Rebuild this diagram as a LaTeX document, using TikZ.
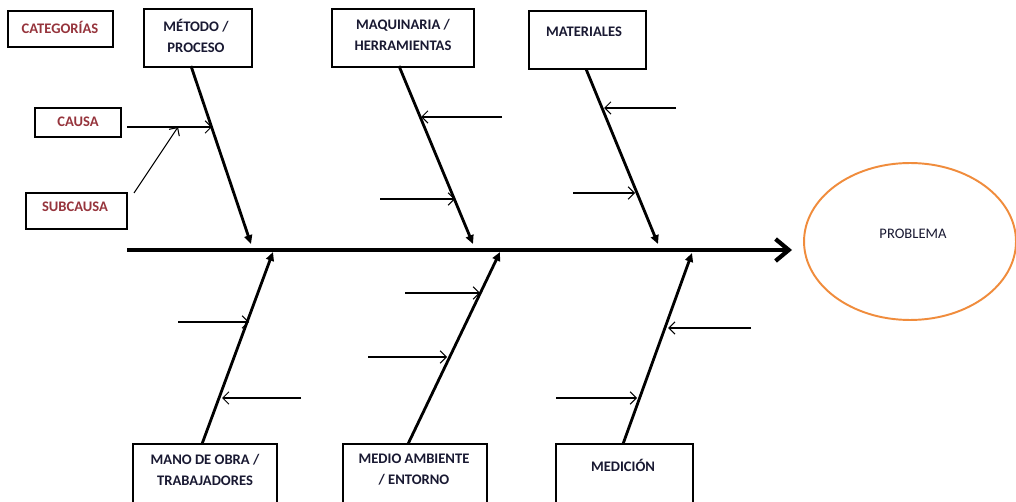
\documentclass[tikz,border=0pt]{standalone}
\usepackage{fontspec}
\setmainfont{Carlito}
\usetikzlibrary{arrows.meta,shapes.geometric,calc}
\definecolor{catred}{RGB}{150,52,60}
\definecolor{labblue}{RGB}{25,25,50}
\definecolor{probor}{RGB}{240,140,60}
\begin{document}
\begin{tikzpicture}[x=0.02cm,y=-0.02cm,
  box/.style={draw, line width=0.8pt, inner sep=0pt, rectangle},
  lab/.style={font=\fontsize{8.3}{12}\selectfont\bfseries, text=labblue, align=center, inner sep=0pt},
  keylab/.style={font=\fontsize{8.3}{12}\selectfont\bfseries, text=catred, inner sep=0pt},
  bone/.style={line width=1.6pt, -{Triangle[length=5pt,width=4.5pt]}},
  cause/.style={line width=0.6pt, -{Straight Barb[length=3.5pt,width=7pt]}},
  spine/.style={line width=2.4pt, -{Straight Barb[length=7.5pt,width=12.5pt]}},
]
\clip (0,0) rectangle (1016,502);
\fill[white] (0,0) rectangle (1016,502);

% legend boxes
\node[box, minimum width=2.10cm, minimum height=0.72cm] (cat) at (60.5,29) {};
\node[keylab] (catt) at (60,27) {CATEGORÍAS};
\node[box, minimum width=1.72cm, minimum height=0.58cm] (causa) at (78,122.5) {};
\node[keylab] (causat) at (78,122) {CAUSA};
\node[box, minimum width=2.02cm, minimum height=0.72cm] (sub) at (76.5,211) {};
\node[keylab] (subt) at (75,207) {SUBCAUSA};

% category boxes
\node[box, minimum width=2.16cm, minimum height=1.16cm] (metodo) at (198,38) {};
\node[lab] (metodot) at (196,35.5) {MÉTODO /\\PROCESO};
\node[box, minimum width=2.84cm, minimum height=1.16cm] (maq) at (403,38) {};
\node[lab] (maqt) at (403,35) {MAQUINARIA /\\HERRAMIENTAS};
\node[box, minimum width=2.34cm, minimum height=1.16cm] (mat) at (587.5,40) {};
\node[lab] (matt) at (584,32) {MATERIALES};
\node[box, minimum width=2.88cm, minimum height=1.36cm] (mano) at (205,478) {};
\node[lab] (manot) at (205,470) {MANO DE OBRA /\\TRABAJADORES};
\node[box, minimum width=2.88cm, minimum height=1.36cm] (medio) at (415,478) {};
\node[lab] (mediot) at (414,470) {MEDIO AMBIENTE\\/ ENTORNO};
\node[box, minimum width=2.74cm, minimum height=1.36cm] (medic) at (624.5,478) {};
\node[lab] (medict) at (623,465) {MEDICIÓN};

% problem
\node[draw=probor, line width=1.1pt, ellipse, minimum width=4.24cm, minimum height=3.14cm] (prob) at (910,241.5) {};
\node[font=\fontsize{8.3}{10}\selectfont, text=labblue] (probt) at (913,234) {PROBLEMA};

% spine
\coordinate (tail) at (127,250);
\coordinate (head) at (792,250);
\draw[spine] (tail) -- (head);

% bones
\coordinate (b1s) at (191,66);  \coordinate (b1e) at (251,244);
\coordinate (b2s) at (399,66);  \coordinate (b2e) at (473,244);
\coordinate (b3s) at (586,69);  \coordinate (b3e) at (658,244);
\coordinate (b4s) at (202,444); \coordinate (b4e) at (273,252);
\coordinate (b5s) at (408,444); \coordinate (b5e) at (500,252);
\coordinate (b6s) at (623,444); \coordinate (b6e) at (692,253);
\draw[bone] (b1s) -- (b1e);
\draw[bone] (b2s) -- (b2e);
\draw[bone] (b3s) -- (b3e);
\draw[bone] (b4s) -- (b4e);
\draw[bone] (b5s) -- (b5e);
\draw[bone] (b6s) -- (b6e);

% cause arrows
\coordinate (c1a) at (127,127); \coordinate (c1b) at (212,127);
\draw[cause] (c1a) -- (c1b);
\coordinate (s1a) at (134,193); \coordinate (s1b) at (178,127);
\draw[cause] (s1a) -- (s1b);

\coordinate (c2a) at (502,117); \coordinate (c2b) at (421,117);
\draw[cause] (c2a) -- (c2b);
\coordinate (c3a) at (380,199); \coordinate (c3b) at (455,199);
\draw[cause] (c3a) -- (c3b);
\coordinate (c4a) at (676,108); \coordinate (c4b) at (604,108);
\draw[cause] (c4a) -- (c4b);
\coordinate (c5a) at (573,193); \coordinate (c5b) at (635,193);
\draw[cause] (c5a) -- (c5b);

\coordinate (c6a) at (178,322); \coordinate (c6b) at (249,322);
\draw[cause] (c6a) -- (c6b);
\coordinate (c7a) at (301,398); \coordinate (c7b) at (222,398);
\draw[cause] (c7a) -- (c7b);
\coordinate (c8a) at (405,293); \coordinate (c8b) at (480,293);
\draw[cause] (c8a) -- (c8b);
\coordinate (c9a) at (368,357); \coordinate (c9b) at (447,357);
\draw[cause] (c9a) -- (c9b);
\coordinate (c10a) at (751,328); \coordinate (c10b) at (668,328);
\draw[cause] (c10a) -- (c10b);
\coordinate (c11a) at (556,398); \coordinate (c11b) at (637,398);
\draw[cause] (c11a) -- (c11b);
\end{tikzpicture}
\end{document}
